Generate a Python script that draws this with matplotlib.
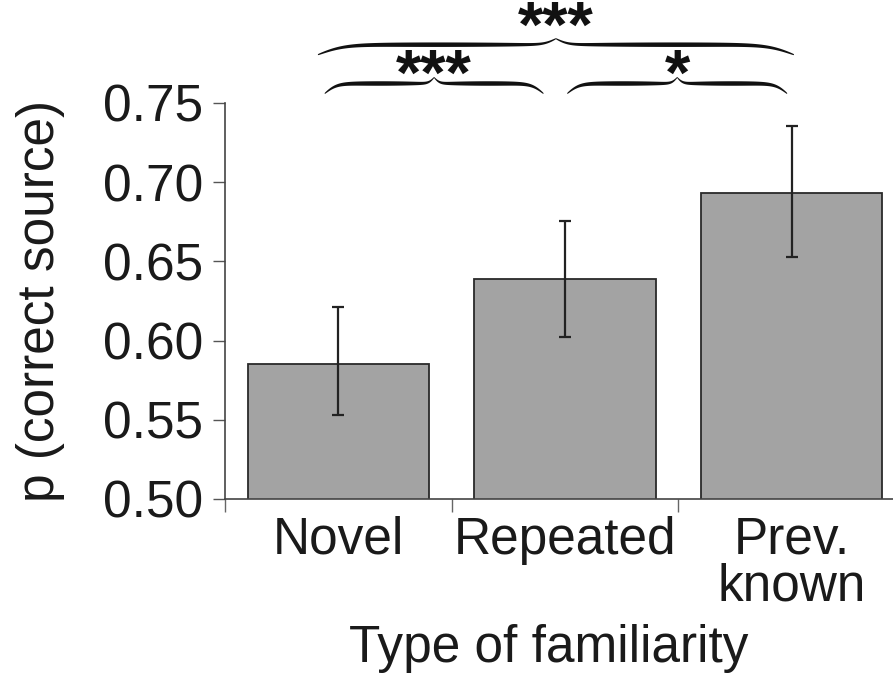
import numpy as np
import matplotlib
matplotlib.use("Agg")
import matplotlib.pyplot as plt

plt.rcParams['font.family'] = ['Liberation Sans', 'DejaVu Sans']

# data
categories = ['Novel', 'Repeated', 'Prev.\nknown']
means = [0.585, 0.639, 0.693]
err_low = [0.553, 0.6025, 0.6525]
err_high = [0.621, 0.6755, 0.7355]

# significance braces: (start, end), star label, brace level, star centre
brace_spans = [(-0.06, 0.905), (1.01, 1.98), (-0.09, 2.01)]
brace_labels = ['***', '*', '***']
brace_levels = [0.7560, 0.7560, 0.7805]
star_levels = [0.7710, 0.7710, 0.8015]

txt_color = '#1a1a1a'

fig = plt.figure(figsize=(8.93, 6.82), dpi=100)
ax = fig.add_axes([225 / 893, (682 - 499) / 682, 680 / 893, 396 / 682])

x = np.arange(len(categories))
yerr = [np.array(means) - np.array(err_low), np.array(err_high) - np.array(means)]
ax.bar(x, means, width=0.8, color='#a3a3a3', edgecolor='#2a2a2a', linewidth=1.3, zorder=2)
ax.errorbar(x, means, yerr=yerr, fmt='none', ecolor='#222222', elinewidth=1.6,
            capsize=4, capthick=1.6, zorder=3)

ax.set_xlim(-0.5, 2.5)
ax.set_ylim(0.5, 0.75)
ax.set_yticks([0.50, 0.55, 0.60, 0.65, 0.70, 0.75])
ax.set_yticklabels(['0.50', '0.55', '0.60', '0.65', '0.70', '0.75'])
ax.set_xticks(x)
ax.set_xticklabels(categories, linespacing=0.95)
ax.set_xticks([-0.5, 0.5, 1.5, 2.5], minor=True)

for s in ['top', 'right']:
    ax.spines[s].set_visible(False)
for s in ['left', 'bottom']:
    ax.spines[s].set_color('#444444')
    ax.spines[s].set_linewidth(1.2)

ax.tick_params(axis='y', length=9, width=1, color='#555555', pad=7,
               labelsize=37, labelcolor=txt_color)
ax.tick_params(axis='x', which='major', length=0, pad=12,
               labelsize=37, labelcolor=txt_color)
ax.tick_params(axis='x', which='minor', length=9, width=1, color='#666666')

ax.set_ylabel('p (correct source)', fontsize=37, color=txt_color)
ax.yaxis.set_label_coords(-0.235, 0.5)
ax.set_xlabel('Type of familiarity', fontsize=37, color=txt_color)
ax.xaxis.set_label_coords(0.476, -0.315)


def draw_brace(ax, x0, x1, y0, h_end, h_tip, thick):
    t = np.linspace(0, 1, 400)
    sig = lambda v: 1.0 / (1.0 + np.exp(-v))
    prof = h_end * (2 * sig(18 * t) - 1) + h_tip * 2 * sig(40 * (t - 1))
    th = thick * (0.2 + 0.8 * np.sin(np.pi * t) ** 0.5)
    xm = 0.5 * (x0 + x1)
    xl = x0 + t * (xm - x0)
    xr = x1 - t * (x1 - xm)
    yl = y0 + prof
    xs = np.concatenate([xl, xr[::-1]])
    ys = np.concatenate([yl, yl[::-1]])
    ts = np.concatenate([th, th[::-1]])
    poly_x = np.concatenate([xs, xs[::-1]])
    poly_y = np.concatenate([ys + ts / 2, (ys - ts / 2)[::-1]])
    ax.fill(poly_x, poly_y, color='#111111', lw=0, clip_on=False, zorder=5)


px = 1 / 1584.0
for (a, b_), lab, lev, sl in zip(brace_spans, brace_labels, brace_levels, star_levels):
    draw_brace(ax, a, b_, lev, 10 * px, 6 * px, 4.5 * px)
    ax.text(0.5 * (a + b_), sl - 25 * px, lab, ha='center', va='baseline',
            fontsize=47, fontweight='bold', color='#111111', clip_on=False)

plt.savefig('out.png', dpi=100)
